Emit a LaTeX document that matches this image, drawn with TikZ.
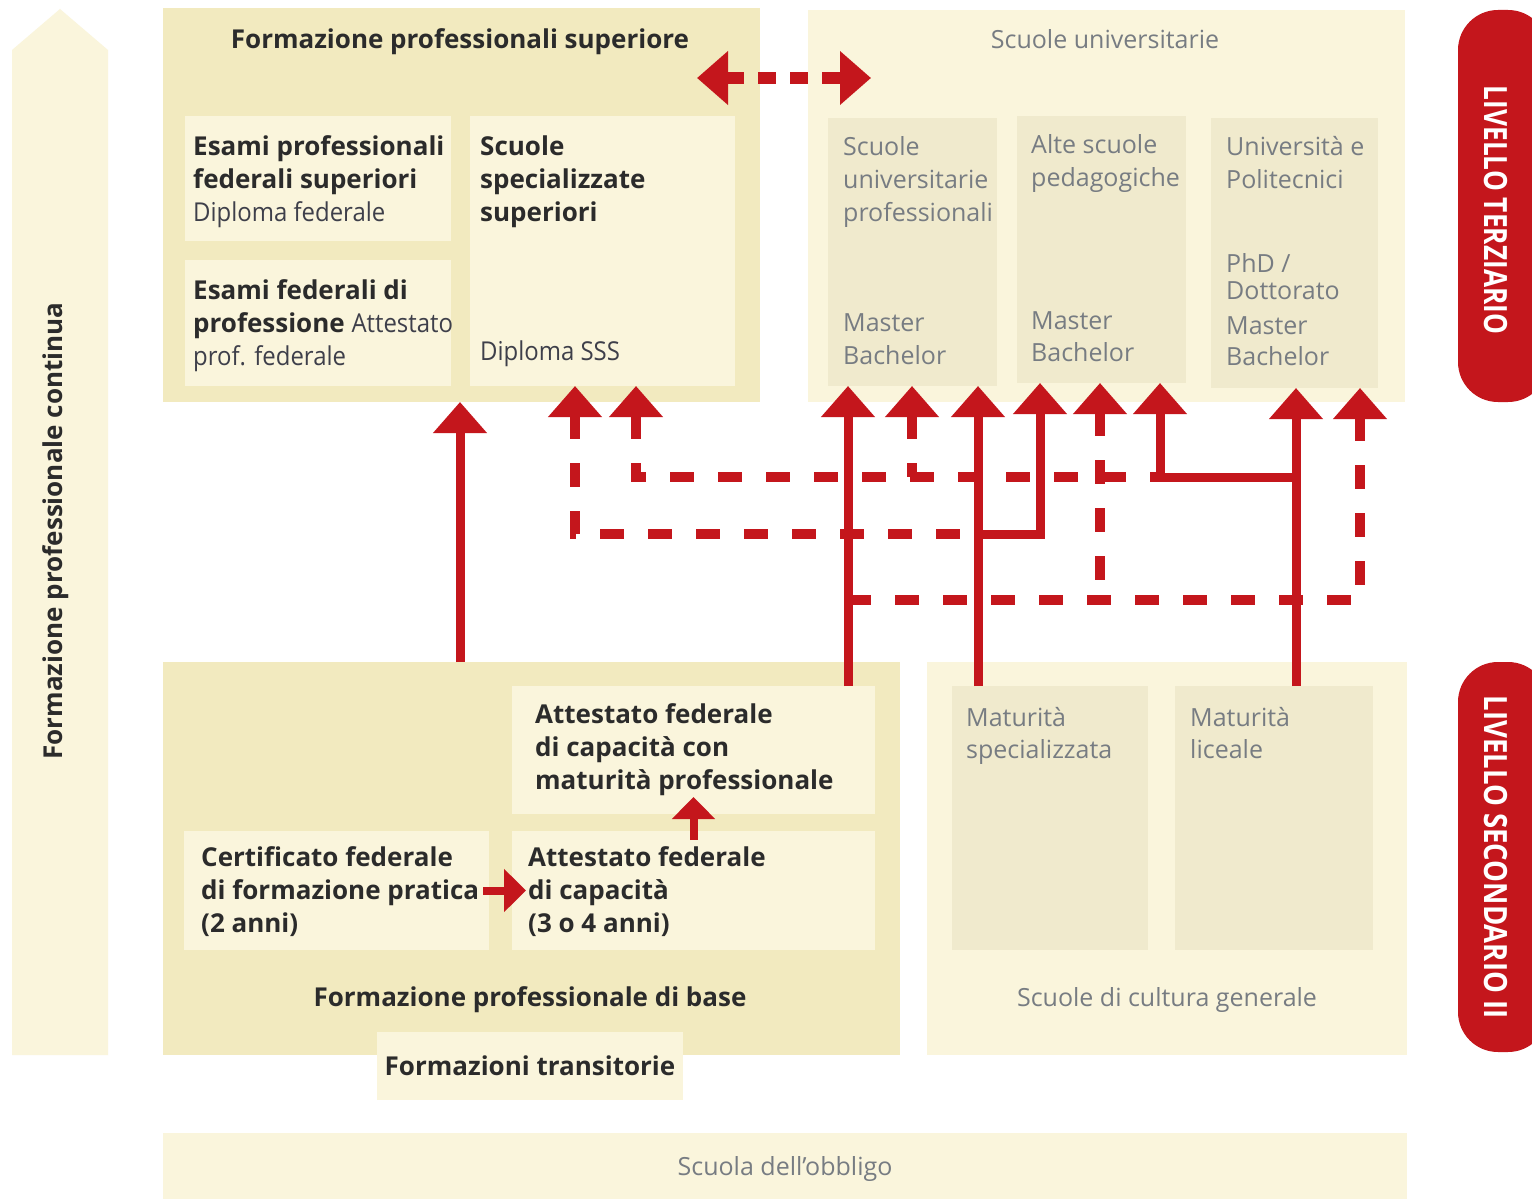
\documentclass[tikz,border=0pt]{standalone}
\usepackage{fontspec}
\usepackage{graphicx}
\setmainfont{Open Sans}
\usetikzlibrary{arrows.meta}

\definecolor{swissred}{HTML}{C4161C}
\definecolor{sand}{HTML}{F2EABF}
\definecolor{cream}{HTML}{FAF5DC}
\definecolor{stone}{HTML}{F0EACD}
\definecolor{ink}{HTML}{2B2B2B}
\definecolor{inksoft}{HTML}{3E3F4A}
\definecolor{mist}{HTML}{777C82}

\newcommand\bodyfont{\fontsize{26}{33}\selectfont}
\newcommand\greyfont{\fontsize{25}{33}\selectfont}
\newcommand\pillfont{\fontsize{32}{36}\selectfont\bfseries}
% regular-weight qualification names, set slightly narrower
\newcommand\qual[1]{{\color{inksoft}\scalebox{0.92}[1]{#1}}}

\begin{document}
\begin{tikzpicture}[x=1pt,y=-1pt,
  panel/.style={rectangle, inner sep=0pt, outer sep=0pt, anchor=north west, draw=none},
  % multi-line labels are placed by the baseline of their last line
  label/.style={anchor=base west, inner sep=0pt, align=left, font=\bodyfont, text=ink},
  greylabel/.style={anchor=base west, inner sep=0pt, align=left, font=\greyfont, text=mist},
  title/.style={anchor=base, inner sep=0pt, font=\bodyfont\bfseries, text=ink},
  greytitle/.style={anchor=base, inner sep=0pt, font=\greyfont, text=mist},
  pill/.style={panel, fill=swissred, rounded corners=40pt, minimum width=90},
  pilltext/.style={inner sep=0pt, rotate=-90, text=white, font=\pillfont},
  solidarr/.style={draw=swissred, line width=9pt, -{Triangle[width=52pt,length=31pt]}},
  dasharr/.style={draw=swissred, line width=10pt, dash pattern=on 24pt off 24pt,
                  {Triangle[width=52pt,length=31pt]}-},
  dblarr/.style={draw=swissred, line width=12pt, dash pattern=on 18pt off 14pt,
                 {Triangle[width=52pt,length=31pt]}-{Triangle[width=52pt,length=31pt]}},
  smallarr/.style={draw=swissred, line width=8pt, -{Triangle[width=42pt,length=22pt]}}
]
\useasboundingbox (0,0) rectangle (1532,1199);
\fill[white] (0,0) rectangle (1532,1199);

% ---- continuing education band ----
\fill[cream] (12,1055) -- (12,50) -- (60,9) -- (108,50) -- (108,1055) -- cycle;
\node[inner sep=0pt, rotate=90, font=\bodyfont\bfseries, text=ink] (fpc) at (56,531)
  {Formazione professionale continua};

% ---- tertiary level: higher vocational education ----
\node[panel, fill=sand, minimum width=597, minimum height=394] (fps) at (163,8) {};
\node[title] (fps-t) at (460,49) {Formazione professionali superiore};
\node[panel, fill=cream, minimum width=266, minimum height=125] (epfs) at (185,116) {};
\node[label] (epfs-t) at (193,221)
  {\textbf{Esami professionali}\\\textbf{federali superiori}\\\qual{Diploma federale}};
\node[panel, fill=cream, minimum width=266, minimum height=126] (efp) at (185,260) {};
\node[label] (efp-t) at (193,365)
  {\textbf{Esami federali di}\\\textbf{professione} \qual{Attestato}\\\qual{prof. federale}};
\node[panel, fill=cream, minimum width=265, minimum height=270] (sss) at (470,116) {};
\node[label] (sss-t) at (480,221) {\textbf{Scuole}\\\textbf{specializzate}\\\textbf{superiori}};
\node[label] (sss-d) at (480,360) {\qual{Diploma SSS}};

% ---- tertiary level: universities ----
\node[panel, fill=cream, minimum width=597, minimum height=392] (su) at (808,10) {};
\node[greytitle] (su-t) at (1105,49) {Scuole universitarie};
\node[panel, fill=stone, minimum width=169, minimum height=268] (sup) at (828,118) {};
\node[greylabel] (sup-t) at (843,221) {Scuole\\universitarie\\professionali};
\node[greylabel] (sup-d) at (843,364) {Master\\Bachelor};
\node[panel, fill=stone, minimum width=169, minimum height=267] (asp) at (1017,116) {};
\node[greylabel] (asp-t) at (1031,186) {Alte scuole\\pedagogiche};
\node[greylabel, font=\fontsize{25}{32}\selectfont] (asp-d) at (1031,361) {Master\\Bachelor};
\node[panel, fill=stone, minimum width=167, minimum height=270] (uni) at (1211,118) {};
\node[greylabel] (uni-t) at (1226,188) {Università e\\Politecnici};
\node[greylabel, font=\fontsize{25}{27}\selectfont] (uni-p) at (1226,299) {PhD /\\Dottorato};
\node[greylabel, font=\fontsize{25}{31}\selectfont] (uni-d) at (1226,365) {Master\\Bachelor};

% ---- upper secondary level: vocational education ----
\node[panel, fill=sand, minimum width=737, minimum height=393] (fpb) at (163,662) {};
\node[title] (fpb-t) at (530,1006) {Formazione professionale di base};
\node[panel, fill=cream, minimum width=363, minimum height=128] (afcm) at (512,686) {};
\node[label] (afcm-t) at (535,789)
  {\textbf{Attestato federale}\\\textbf{di capacità con}\\\textbf{maturità professionale}};
\node[panel, fill=cream, minimum width=305, minimum height=119] (cffp) at (184,831) {};
\node[label] (cffp-t) at (201,932)
  {\textbf{Certificato federale}\\\textbf{di formazione pratica}\\\textbf{(2 anni)}};
\node[panel, fill=cream, minimum width=363, minimum height=119] (afc) at (512,831) {};
\node[label] (afc-t) at (528,932)
  {\textbf{Attestato federale}\\\textbf{di capacità}\\\textbf{(3 o 4 anni)}};
\node[panel, fill=cream, minimum width=306, minimum height=68] (ft) at (377,1032) {};
\node[title] (ft-t) at (530,1075) {Formazioni transitorie};

% ---- upper secondary level: general education ----
\node[panel, fill=cream, minimum width=480, minimum height=393] (scg) at (927,662) {};
\node[greytitle] (scg-t) at (1167,1006) {Scuole di cultura generale};
\node[panel, fill=stone, minimum width=196, minimum height=264] (ms) at (952,686) {};
\node[greylabel, font=\fontsize{25}{32}\selectfont] (ms-t) at (966,758) {Maturità\\specializzata};
\node[panel, fill=stone, minimum width=198, minimum height=264] (ml) at (1175,686) {};
\node[greylabel, font=\fontsize{25}{32}\selectfont] (ml-t) at (1190,758) {Maturità\\liceale};

% ---- compulsory school ----
\node[panel, fill=cream, minimum width=1244, minimum height=72] (so) at (163,1133) {};
\node[greytitle] (so-t) at (785,1175) {Scuola dell’obbligo};

% ---- level markers ----
\begin{scope}
  \clip (0,0) rectangle (1532,1199);
  \node[pill, minimum height=392] (lt) at (1458,10) {};
  \node[pill, minimum height=390] (ls) at (1458,662) {};
\end{scope}
\node[pilltext] (lt-t) at (1496,210) {\scalebox{0.82}[1]{LIVELLO TERZIARIO}};
\node[pilltext] (ls-t) at (1496,857) {\scalebox{0.86}[1]{LIVELLO SECONDARIO II}};

% ---- columns and rows of the access paths ----
\coordinate (c1) at (460,0);
\coordinate (c2) at (575,0);
\coordinate (c3) at (636,0);
\coordinate (c4) at (848,0);
\coordinate (c5) at (912,0);
\coordinate (c6) at (978,0);
\coordinate (c7) at (1040,0);
\coordinate (c8) at (1100,0);
\coordinate (c9) at (1160,0);
\coordinate (c10) at (1296,0);
\coordinate (c11) at (1360,0);
\coordinate (r1) at (0,477);
\coordinate (r2) at (0,534);
\coordinate (r3) at (0,600);

% dashed access paths (drawn from the arrow tip backwards)
\draw[dasharr] (c2 |- sss.south) |- (c6 |- r2);
\draw[dasharr] (c3 |- sss.south) |- (c9 |- r1);
\draw[dasharr] (c5 |- sup.south) -- (c5 |- r1);
\draw[dasharr] (c11 |- uni.south) |- (c4 |- r3);
\draw[dasharr] (c8 |- asp.south) -- (c8 |- r3);

% direct access paths
\draw[solidarr] (c1 |- fpb.north) -- (c1 |- fps.south);
\draw[solidarr] (c4 |- afcm.north) -- (c4 |- sup.south);
\draw[solidarr] (c6 |- ms.north) -- (c6 |- sup.south);
\draw[solidarr] (c6 |- r2) -| (c7 |- asp.south);
\draw[solidarr] (c10 |- ml.north) -- (c10 |- uni.south);
\draw[solidarr] (c10 |- r1) -| (c9 |- asp.south);

% permeability between the two tertiary branches
\draw[dblarr] ([xshift=-63pt,yshift=-70pt]fps.north east) -- ([xshift=63pt,yshift=-68pt]su.north west);

% steps inside vocational education
\draw[smallarr] ([xshift=-6pt]cffp.east) -- ([xshift=14pt]afc.west);
\draw[smallarr] ([yshift=-9pt]afc.north) -- ([yshift=17pt]afcm.south);
\end{tikzpicture}
\end{document}
